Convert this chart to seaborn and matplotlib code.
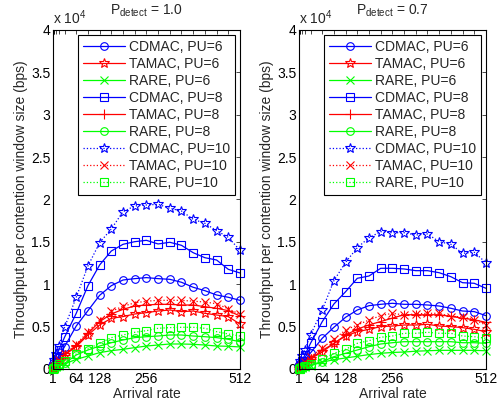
import numpy as np
import pandas as pd
import matplotlib
matplotlib.use('Agg')
import matplotlib.pyplot as plt
import seaborn as sns

#arrival rates used in the simulation
arrival = [1, 2, 4, 8, 16, 32, 64, 96, 128, 160, 192, 224, 256, 288, 320,
           352, 384, 416, 448, 480, 512]
xtick_labels = {1: '1', 64: '64', 128: '128', 256: '256', 512: '512'}

#throughput (x 10^4 bps), P_detect = 1.0
cd6_a = [0.01, 0.02, 0.04, 0.08, 0.15, 0.263, 0.507, 0.688, 0.869, 0.983, 1.05, 1.066,
         1.078, 1.066, 1.058, 1.023, 0.964, 0.924, 0.873, 0.846, 0.81]
ta6_a = [0.005, 0.01, 0.03, 0.05, 0.09, 0.165, 0.263, 0.401, 0.519, 0.598, 0.618, 0.649,
         0.665, 0.684, 0.696, 0.677, 0.684, 0.657, 0.637, 0.618, 0.53]
ra6_a = [0.002, 0.004, 0.01, 0.02, 0.035, 0.059, 0.114, 0.153, 0.193, 0.216, 0.232, 0.252,
         0.271, 0.283, 0.295, 0.295, 0.291, 0.283, 0.271, 0.268, 0.26]
cd8_a = [0.02, 0.04, 0.08, 0.14, 0.22, 0.374, 0.657, 0.983, 1.227, 1.392, 1.471, 1.502,
         1.518, 1.475, 1.495, 1.459, 1.372, 1.313, 1.286, 1.176, 1.133]
ta8_a = [0.006, 0.012, 0.03, 0.055, 0.1, 0.17, 0.275, 0.421, 0.558, 0.649, 0.704, 0.743,
         0.755, 0.763, 0.763, 0.755, 0.755, 0.735, 0.716, 0.688, 0.625]
ra8_a = [0.002, 0.005, 0.012, 0.025, 0.04, 0.067, 0.165, 0.224, 0.271, 0.31, 0.342, 0.37,
         0.381, 0.389, 0.401, 0.401, 0.389, 0.381, 0.37, 0.35, 0.322]
cd10_a = [0.03, 0.06, 0.11, 0.18, 0.27, 0.49, 0.846, 1.215, 1.49, 1.652, 1.856, 1.923,
          1.935, 1.943, 1.896, 1.864, 1.766, 1.719, 1.632, 1.554, 1.40]
ta10_a = [0.007, 0.014, 0.035, 0.06, 0.11, 0.18, 0.29, 0.44, 0.58, 0.68, 0.74, 0.78,
          0.80, 0.81, 0.81, 0.81, 0.80, 0.79, 0.77, 0.71, 0.645]
ra10_a = [0.003, 0.006, 0.015, 0.03, 0.055, 0.1, 0.177, 0.236, 0.303, 0.37, 0.401, 0.433,
          0.452, 0.48, 0.488, 0.492, 0.492, 0.48, 0.44, 0.413, 0.389]

#throughput (x 10^4 bps), P_detect = 0.7
cd6_b = [0.01, 0.02, 0.03, 0.06, 0.1, 0.19, 0.362, 0.492, 0.61, 0.696, 0.747, 0.763,
         0.775, 0.763, 0.763, 0.755, 0.743, 0.716, 0.684, 0.677, 0.629]
ta6_b = [0.004, 0.008, 0.02, 0.04, 0.07, 0.12, 0.2, 0.303, 0.389, 0.44, 0.468, 0.5,
         0.507, 0.519, 0.519, 0.527, 0.507, 0.5, 0.488, 0.468, 0.44]
ra6_b = [0.001, 0.003, 0.007, 0.013, 0.025, 0.04, 0.08, 0.11, 0.13, 0.15, 0.17, 0.185,
         0.195, 0.2, 0.21, 0.215, 0.22, 0.22, 0.22, 0.22, 0.215]
cd8_b = [0.01, 0.03, 0.05, 0.1, 0.16, 0.303, 0.558, 0.767, 0.912, 1.07, 1.097, 1.188,
         1.188, 1.18, 1.16, 1.16, 1.136, 1.089, 1.018, 1.011, 0.952]
ta8_b = [0.004, 0.009, 0.02, 0.04, 0.07, 0.12, 0.22, 0.3, 0.4, 0.47, 0.52, 0.56,
         0.6, 0.64, 0.64, 0.64, 0.64, 0.62, 0.6, 0.58, 0.55]
ra8_b = [0.002, 0.004, 0.009, 0.018, 0.03, 0.05, 0.087, 0.145, 0.185, 0.224, 0.263, 0.295,
         0.31, 0.322, 0.322, 0.322, 0.322, 0.322, 0.31, 0.31, 0.303]
cd10_b = [0.02, 0.05, 0.09, 0.15, 0.22, 0.401, 0.696, 1.042, 1.259, 1.431, 1.549, 1.62,
          1.608, 1.608, 1.581, 1.593, 1.502, 1.471, 1.365, 1.377, 1.254]
ta10_b = [0.005, 0.01, 0.025, 0.045, 0.08, 0.14, 0.25, 0.35, 0.46, 0.519, 0.578, 0.629,
          0.657, 0.637, 0.649, 0.657, 0.657, 0.618, 0.618, 0.578, 0.519]
ra10_b = [0.002, 0.005, 0.01, 0.02, 0.035, 0.06, 0.114, 0.185, 0.232, 0.303, 0.334, 0.374,
          0.389, 0.421, 0.421, 0.433, 0.421, 0.421, 0.389, 0.381, 0.362]

labels = ['CDMAC, PU=6', 'TAMAC, PU=6', 'RARE, PU=6',
          'CDMAC, PU=8', 'TAMAC, PU=8', 'RARE, PU=8',
          'CDMAC, PU=10', 'TAMAC, PU=10', 'RARE, PU=10']
panels = [('1.0', [cd6_a, ta6_a, ra6_a, cd8_a, ta8_a, ra8_a, cd10_a, ta10_a, ra10_a]),
          ('0.7', [cd6_b, ta6_b, ra6_b, cd8_b, ta8_b, ra8_b, cd10_b, ta10_b, ra10_b])]

#matlab-like line styles
colors = ['#0000ff', '#ff0000', '#00ff00'] * 3
markers = ['o', '*', 'x', 's', '+', 'o', '*', 'x', 's']
styles = ['-'] * 6 + [':'] * 3
msizes = {'o': 5.5, 's': 5.5, '*': 7, 'x': 5.5, '+': 7}

#setting parameters
sns.set_theme(style='white')
plt.rcParams['font.family'] = ['Liberation Sans', 'DejaVu Sans']
plt.rcParams['mathtext.fontset'] = 'custom'
plt.rcParams['mathtext.rm'] = 'Liberation Sans'
plt.rcParams['mathtext.it'] = 'Liberation Sans:italic'
plt.rcParams['xtick.direction'] = 'in'
plt.rcParams['ytick.direction'] = 'in'
plt.rcParams['xtick.top'] = True
plt.rcParams['ytick.right'] = True

fig = plt.figure(figsize=(5.02, 4.07), dpi=100)
lefts = [0.106, 0.596]

for left, (pd_val, series) in zip(lefts, panels):
    ax = fig.add_axes([left, 0.0934, 0.372, 0.833])
    for lab, vals, c, m, ls in zip(labels, series, colors, markers, styles):
        df = pd.DataFrame({'x': arrival, 'y': vals})
        sns.lineplot(data=df, x='x', y='y', ax=ax, color=c, marker=m, linestyle=ls,
                     linewidth=0.9, markersize=msizes[m],
                     markerfacecolor='none', markeredgecolor=c, markeredgewidth=0.8,
                     label=lab, clip_on=False)
    ax.set_xlim(1, 512)
    ax.set_ylim(0, 4)
    ax.set_xticks(arrival)
    ax.set_xticklabels([xtick_labels.get(a, '') for a in arrival])
    ax.set_yticks(np.arange(0, 4.01, 0.5))
    ax.set_yticklabels(['0', '0.5', '1', '1.5', '2', '2.5', '3', '3.5', '4'])
    ax.tick_params(length=3, width=0.5, labelsize=10, pad=2, colors='black')
    for sp in ax.spines.values():
        sp.set_color('black')
        sp.set_linewidth(0.8)
    ax.set_xlabel('Arrival rate', fontsize=10, labelpad=1)
    ax.set_ylabel('Throughput per contention window size (bps)', fontsize=10, labelpad=2)
    ax.set_title(r'P$_{\mathregular{detect}}$ = ' + pd_val, fontsize=10, pad=11)
    ax.text(0.0, 1.008, r'x 10$^{\mathregular{4}}$', transform=ax.transAxes,
            fontsize=10, va='bottom', ha='left')
    leg = ax.legend(loc='upper right', fontsize=10, handlelength=3, handletextpad=0.3,
                    labelspacing=0.22, borderaxespad=0.35, borderpad=0.35,
                    fancybox=False, framealpha=1, edgecolor='black')
    leg.get_frame().set_linewidth(0.8)

plt.savefig('out.png', dpi=100)
